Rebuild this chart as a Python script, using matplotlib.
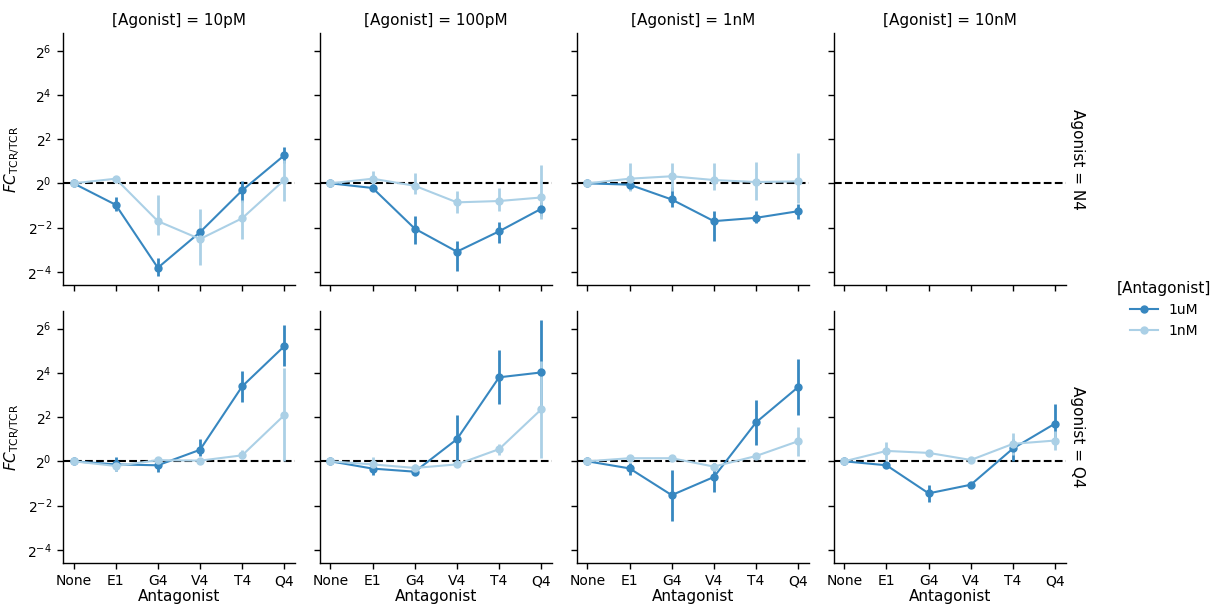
import numpy as np
import matplotlib
matplotlib.use("Agg")
import matplotlib.pyplot as plt
from matplotlib.lines import Line2D

# ----------------
# DATA (log2 fold change)
# ----------------
ANTAGONISTS = ["None", "E1", "G4", "V4", "T4", "Q4"]
AGONIST_CONC = ["10pM", "100pM", "1nM", "10nM"]
AGONISTS = ["N4", "Q4"]
ANTAG_CONC = ["1uM", "1nM"]

# agonist N4, antagonist 1uM  (one list per agonist concentration, None = no data)
n4_1uM_mean = [[0, -0.97, -3.82, -2.21, -0.32, 1.27],
               [0, -0.21, -2.05, -3.09, -2.17, -1.15],
               [0, -0.06, -0.73, -1.71, -1.56, -1.26],
               None]
n4_1uM_lo = [[0, -1.23, -4.17, -2.35, -0.85, 0.92],
             [0, -0.30, -2.76, -3.95, -2.68, -1.50],
             [0, -0.30, -1.05, -2.62, -1.80, -1.60],
             None]
n4_1uM_hi = [[0, -0.64, -3.36, -2.07, 0.09, 1.65],
             [0, -0.10, -1.50, -2.60, -1.73, -0.85],
             [0, 0.05, -0.18, -1.24, -1.24, -0.92],
             None]

# agonist N4, antagonist 1nM
n4_1nM_mean = [[0, 0.21, -1.71, -2.52, -1.58, 0.15],
               [0, 0.21, -0.11, -0.86, -0.80, -0.64],
               [0, 0.21, 0.32, 0.15, 0.06, 0.09],
               None]
n4_1nM_lo = [[0, 0.15, -2.35, -3.71, -2.53, -0.82],
             [0, -0.14, -0.48, -1.35, -1.23, -1.62],
             [0, -0.36, -0.33, -0.32, -0.77, -0.90],
             None]
n4_1nM_hi = [[0, 0.27, -0.52, -1.15, -0.74, 1.07],
             [0, 0.58, 0.48, -0.33, -0.21, 0.82],
             [0, 0.94, 0.92, 0.91, 0.95, 1.39],
             None]

# agonist Q4, antagonist 1uM
q4_1uM_mean = [[0, -0.14, -0.18, 0.52, 3.39, 5.21],
               [0, -0.33, -0.47, 1.00, 3.80, 4.02],
               [0, -0.32, -1.53, -0.71, 1.76, 3.36],
               [0, -0.18, -1.45, -1.06, 0.58, 1.71]]
q4_1uM_lo = [[0, -0.45, -0.50, 0.23, 2.68, 4.29],
             [0, -0.64, -0.60, 0.00, 2.59, 2.50],
             [0, -0.64, -2.68, -1.41, 0.74, 2.09],
             [0, -0.25, -1.85, -1.12, 0.00, 0.98]]
q4_1uM_hi = [[0, 0.18, 0.10, 1.02, 4.09, 6.17],
             [0, 0.00, -0.30, 2.08, 5.02, 6.39],
             [0, -0.08, -0.38, -0.08, 2.76, 4.62],
             [0, -0.10, -1.08, -1.00, 1.00, 2.58]]

# agonist Q4, antagonist 1nM
q4_1nM_mean = [[0, -0.21, 0.05, 0.03, 0.27, 2.09],
               [0, -0.14, -0.30, -0.14, 0.55, 2.35],
               [0, 0.14, 0.14, -0.24, 0.24, 0.91],
               [0, 0.47, 0.38, 0.06, 0.79, 0.94]]
q4_1nM_lo = [[0, -0.45, -0.05, -0.05, 0.10, 0.00],
             [0, -0.45, -0.50, -0.20, 0.29, 0.15],
             [0, 0.08, 0.08, -0.30, 0.10, 0.26],
             [0, 0.08, 0.30, 0.00, 0.30, 0.53]]
q4_1nM_hi = [[0, 0.00, 0.15, 0.12, 0.53, 4.24],
             [0, 0.20, -0.10, -0.08, 0.80, 4.55],
             [0, 0.20, 0.20, -0.18, 0.38, 1.56],
             [0, 0.86, 0.46, 0.12, 1.26, 1.36]]

DATA = {
    ("N4", "1uM"): (n4_1uM_mean, n4_1uM_lo, n4_1uM_hi),
    ("N4", "1nM"): (n4_1nM_mean, n4_1nM_lo, n4_1nM_hi),
    ("Q4", "1uM"): (q4_1uM_mean, q4_1uM_lo, q4_1uM_hi),
    ("Q4", "1nM"): (q4_1nM_mean, q4_1nM_lo, q4_1nM_hi),
}

COLORS = {"1uM": "#3787c0", "1nM": "#abd0e6"}

# ----------------
# PLOT
# ----------------
plt.rcParams["font.family"] = "DejaVu Sans"
plt.rcParams["axes.linewidth"] = 1.0
plt.rcParams["xtick.major.width"] = 1.0
plt.rcParams["ytick.major.width"] = 1.0
plt.rcParams["xtick.major.size"] = 4.5
plt.rcParams["ytick.major.size"] = 4.5

fig, axes = plt.subplots(2, 4, figsize=(12.11, 6.07), dpi=100, sharex=True, sharey=True)
fig.subplots_adjust(left=0.052, right=0.880, top=0.9456, bottom=0.0725, wspace=0.108, hspace=0.103)

x = np.arange(len(ANTAGONISTS))

for r, agonist in enumerate(AGONISTS):
    for c, conc in enumerate(AGONIST_CONC):
        ax = axes[r, c]
        ax.axhline(1, color="black", linestyle="--", linewidth=1.5, zorder=1)
        for antag in ANTAG_CONC:
            mean, lo, hi = DATA[(agonist, antag)]
            if mean[c] is None:
                continue
            m = 2.0 ** np.array(mean[c])
            l = 2.0 ** np.array(lo[c])
            h = 2.0 ** np.array(hi[c])
            ax.vlines(x, l, h, color=COLORS[antag], linewidth=2.0, zorder=2)
            ax.plot(x, m, color=COLORS[antag], linewidth=1.5, marker="o",
                    markersize=5, zorder=3)

        ax.set_yscale("log", base=2)
        ax.set_ylim(2 ** -4.6, 2 ** 6.8)
        ax.set_yticks([2.0 ** k for k in range(-4, 7, 2)])
        ax.minorticks_off()
        ax.set_xlim(-0.25, 5.25)
        ax.set_xticks(x)
        ax.set_xticklabels(ANTAGONISTS)
        ax.tick_params(labelsize=10)
        ax.spines["top"].set_visible(False)
        ax.spines["right"].set_visible(False)

        if r == 0:
            ax.set_title(f"[Agonist] = {conc}", fontsize=11)
        if r == 1:
            ax.set_xlabel("Antagonist", fontsize=11, labelpad=1)
        if c == 0:
            ax.set_ylabel(r"$FC_{\mathrm{TCR/TCR}}$", fontsize=11)
        if c == 3:
            ax.annotate(f"Agonist = {agonist}", xy=(1.02, 0.5), xycoords="axes fraction",
                        rotation=270, ha="left", va="center", fontsize=11)

handles = [Line2D([], [], color=COLORS[a], marker="o", markersize=5, linewidth=1.5)
           for a in ANTAG_CONC]
fig.legend(handles, ANTAG_CONC, title="[Antagonist]", loc="center left",
           bbox_to_anchor=(0.912, 0.49), frameon=False, fontsize=10, title_fontsize=11)

fig.savefig("out.png", dpi=100)
